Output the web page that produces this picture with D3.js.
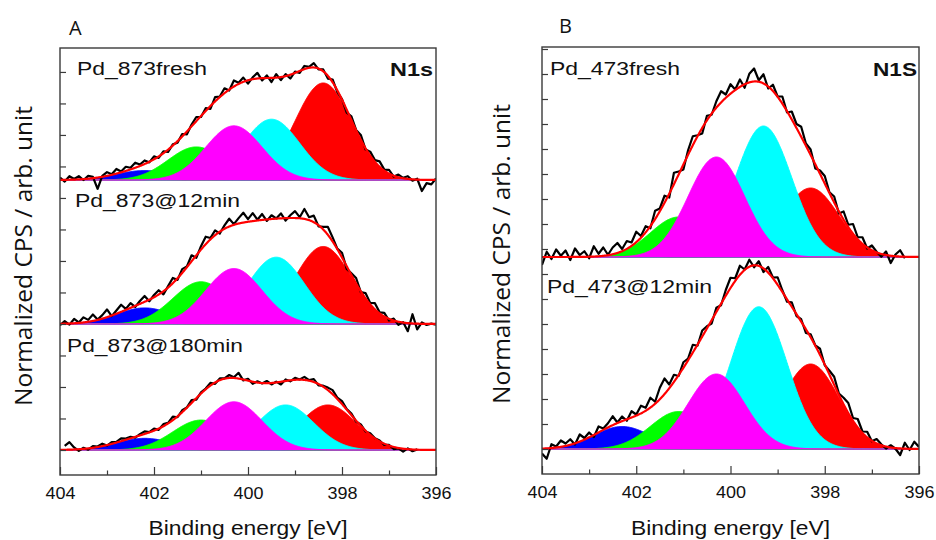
<!DOCTYPE html>
<html><head><meta charset="utf-8">
<script src="https://cdn.jsdelivr.net/npm/d3@7"></script>
<style>body{margin:0;background:#fff}</style>
</head><body>
<svg id="chart" width="936" height="540"></svg>
<script>
// ---------------- data ----------------
const energyStep = 0.1;
const peakColors = ["#0000ff", "#00ff00", "#ff00ff", "#00ffff", "#ff0000"]; // blue, green, magenta, cyan, red
const drawOrder = [4, 0, 3, 1, 2];
const peakSigma = 0.6;
const xMajorTicks = [404, 402, 400, 398, 396];
const xMinorTicks = [403, 401, 399, 397];

// Panel A
const labelsA = ["Pd_873fresh", "Pd_873@12min", "Pd_873@180min"];
const offsetsA = [85.7, 40, 0];
const startsA = [404.0, 404.0, 403.9];
const centersA_fresh = [402.2, 401.1, 400.3, 399.5, 398.4];
const heightsA_fresh = [3.0, 10.5, 17.2, 19.3, 30.8];
const centersA_12 = [402.2, 401.0, 400.3, 399.4, 398.4];
const heightsA_12 = [5.1, 13.4, 17.6, 21.2, 24.6];
const centersA_180 = [402.2, 401.0, 400.3, 399.2, 398.3];
const heightsA_180 = [3.7, 9.5, 15.3, 14.3, 14.3];
const dataA_fresh = [0.8,-0.5,1.2,0.3,1.2,0.0,1.3,1.0,-2.8,1.3,
 2.5,1.8,3.5,2.7,4.2,3.9,5.5,4.9,6.2,5.6,
 7.5,7.0,9.1,8.9,11.3,11.8,14.6,14.5,17.6,20.0,
 20.0,22.8,22.6,26.3,26.5,29.1,28.4,31.6,30.9,32.5,
 30.6,32.6,34.0,31.6,33.2,31.1,33.6,31.7,33.6,32.2,
 34.4,34.0,36.2,35.9,37.1,35.1,35.1,32.2,31.9,27.9,
 25.7,21.4,20.2,15.9,14.3,9.7,9.0,6.3,5.9,3.3,
 3.2,1.1,1.7,0.7,1.2,-0.2,0.4,-3.5,-1.0,-1.4,
 0.5];
const dataA_12 = [-0.4,0.9,-0.2,1.6,0.5,2.1,1.3,3.0,1.4,2.8,
 4.6,2.5,4.3,6.1,4.8,6.6,5.4,7.3,8.9,7.2,
 9.2,10.7,9.4,12.0,14.6,14.0,17.4,18.3,21.8,21.0,
 24.7,27.7,27.3,29.7,28.7,31.3,33.4,31.7,33.6,35.3,
 33.3,35.2,33.1,34.9,32.7,34.5,33.5,35.1,32.8,34.5,
 35.8,33.9,36.5,33.9,34.4,31.0,30.8,30.8,27.5,23.9,
 22.6,17.5,16.1,14.6,10.1,9.8,6.7,6.6,3.7,3.5,
 1.1,1.7,-0.3,0.6,-2.3,3.1,-1.7,0.5,-0.3,0.1,
 -0.2];
const dataA_180 = [1.3,2.5,0.8,-0.3,0.7,0.1,1.2,1.1,2.0,1.4,
 2.5,2.6,3.7,3.6,4.2,3.9,5.0,5.9,5.7,6.8,
 6.4,8.2,8.6,10.6,10.4,12.6,13.5,15.8,16.0,18.3,
 19.5,21.3,21.0,22.7,22.7,23.8,23.1,24.5,22.1,22.6,
 21.0,21.8,21.1,21.9,20.8,21.7,20.8,22.4,21.8,22.9,
 22.4,23.2,22.2,22.5,20.5,20.4,19.8,19.0,16.6,15.5,
 13.0,11.6,9.0,8.1,5.9,5.3,3.7,3.0,1.6,1.6,
 0.3,0.5,-0.5,0.5,-0.4,0.2];

// Panel B
const labelsB = ["Pd_473fresh", "Pd_473@12min"];
const offsetsB = [76.8, 0];
const startsB = [404.0, 404.0];
const centersB_fresh = [402.2, 401.1, 400.3, 399.3, 398.3];
const heightsB_fresh = [0, 16, 40, 52.4, 27.6];
const centersB_12 = [402.3, 401.1, 400.3, 399.4, 398.3];
const heightsB_12 = [9, 15, 30, 56.9, 34];
const dataB_fresh = [-3.2,2.1,-0.8,3.0,0.5,2.6,-1.2,3.4,0.8,2.3,
 -0.5,4.3,1.3,3.8,0.9,3.8,5.6,3.2,6.4,5.8,
 10.1,8.4,12.3,11.5,18.5,19.4,24.5,23.8,33.7,34.2,
 35.0,42.7,48.3,48.7,49.4,56.5,56.9,62.3,66.3,65.0,
 69.1,67.0,71.0,67.7,73.3,75.4,70.7,73.1,67.4,68.9,
 64.2,64.2,57.8,58.2,53.2,52.1,45.4,43.0,35.4,34.6,
 32.4,25.9,24.2,17.4,18.2,12.9,13.2,7.9,7.9,3.4,
 4.6,2.1,0.1,2.2,-2.4,1.0,2.7,-0.5];
const dataB_12 = [-1.8,-3.9,1.9,1.0,3.4,2.2,3.9,1.8,5.8,4.4,
 6.6,4.8,9.0,8.2,10.3,13.1,10.6,13.0,11.3,15.1,
 13.8,17.3,16.5,20.5,18.9,24.5,28.2,25.8,29.7,29.2,
 34.7,36.2,41.7,41.3,47.4,49.1,50.2,56.5,57.5,63.6,
 68.5,68.3,73.3,71.8,75.7,72.7,75.1,70.8,72.8,68.6,
 68.7,63.5,58.9,58.7,53.2,51.9,46.4,45.9,41.4,40.1,
 33.5,31.3,28.9,22.2,20.5,18.4,12.4,12.0,7.0,6.9,
 3.1,4.0,1.9,0.2,1.5,0.1,-2.4,2.5,-0.4,2.9,
 0.8];

// ---------------- layout ----------------
const panels = [
  { left: 60, right: 436, top: 48, bottom: 475, yDomain: [-7.94, 127.6], yTicks: d3.range(0, 121, 10),
    tag: "A", tagX: 69, tagY: 35, element: "N1s", elX: 390, elLen: 43, yTitleX: 31.5, yTitleY: 256,
    spectra: [
      { label: labelsA[0], offset: offsetsA[0], start: startsA[0], data: dataA_fresh, centers: centersA_fresh, heights: heightsA_fresh, lx: 77, ly: 74.5, ll: 130 },
      { label: labelsA[1], offset: offsetsA[1], start: startsA[1], data: dataA_12, centers: centersA_12, heights: heightsA_12, lx: 75, ly: 207, ll: 165 },
      { label: labelsA[2], offset: offsetsA[2], start: startsA[2], data: dataA_180, centers: centersA_180, heights: heightsA_180, lx: 67, ly: 352, ll: 176 }
    ] },
  { left: 542, right: 919, top: 47, bottom: 474, yDomain: [-10, 160.8], yTicks: d3.range(0, 161, 10),
    tag: "B", tagX: 559, tagY: 33, element: "N1S", elX: 873, elLen: 44, yTitleX: 510, yTitleY: 254,
    spectra: [
      { label: labelsB[0], offset: offsetsB[0], start: startsB[0], data: dataB_fresh, centers: centersB_fresh, heights: heightsB_fresh, lx: 550, ly: 75, ll: 130 },
      { label: labelsB[1], offset: offsetsB[1], start: startsB[1], data: dataB_12, centers: centersB_12, heights: heightsB_12, lx: 547, ly: 293, ll: 165 }
    ] }
];

const svg = d3.select("#chart");
svg.append("rect").attr("width", 936).attr("height", 540).attr("fill", "#fff");
const fineE = d3.range(0, 801).map(i => 404 - i * 0.01);
const gauss = (e, c, h) => h * Math.exp(-((e - c) ** 2) / (2 * peakSigma * peakSigma));
const axisColor = "#3a3a3a";

panels.forEach((p, pi) => {
  const x = d3.scaleLinear().domain([404, 396]).range([p.left, p.right]);
  const y = d3.scaleLinear().domain(p.yDomain).range([p.bottom, p.top]);
  const clipId = "clip" + pi;
  svg.append("clipPath").attr("id", clipId).append("rect")
    .attr("x", p.left).attr("y", p.top).attr("width", p.right - p.left).attr("height", p.bottom - p.top);
  const g = svg.append("g").attr("clip-path", `url(#${clipId})`);

  p.spectra.forEach(s => {
    const comps = fineE.map(e => ({ e, v: s.centers.map((c, k) => gauss(e, c, s.heights[k])) }));
    drawOrder.forEach(k => {
      const area = d3.area().x(d => x(d.e)).y0(y(s.offset)).y1(d => y(s.offset + d.v[k]));
      g.append("path").datum(comps).attr("d", area)
        .attr("fill", peakColors[k]).attr("stroke", peakColors[k]).attr("stroke-width", 1);
    });
    const pts = s.data.map((v, i) => ({ e: s.start - i * energyStep, v }));
    g.append("path").datum(pts)
      .attr("d", d3.line().x(d => x(d.e)).y(d => y(s.offset + d.v)))
      .attr("fill", "none").attr("stroke", "#000").attr("stroke-width", 2.2).attr("stroke-linejoin", "round");
    g.append("path").datum(comps)
      .attr("d", d3.line().x(d => x(d.e)).y(d => y(s.offset + d3.sum(d.v))))
      .attr("fill", "none").attr("stroke", "#ff0000").attr("stroke-width", 2.2);
  });

  // frame
  svg.append("rect").attr("x", p.left).attr("y", p.top).attr("width", p.right - p.left).attr("height", p.bottom - p.top)
    .attr("fill", "none").attr("stroke", axisColor).attr("stroke-width", 1.4);

  // left ticks (inward)
  const ly = svg.append("g").attr("transform", `translate(${p.left},0)`)
    .call(d3.axisLeft(y).tickValues(p.yTicks).tickSize(-6).tickFormat(""));
  ly.select(".domain").remove();
  ly.selectAll("line").attr("stroke", axisColor).attr("stroke-width", 1.2);

  // bottom ticks
  const bx = svg.append("g").attr("transform", `translate(0,${p.bottom})`)
    .call(d3.axisBottom(x).tickValues(xMajorTicks).tickSize(-8).tickPadding(12).tickFormat(d3.format("d")));
  bx.select(".domain").remove();
  bx.selectAll("line").attr("stroke", axisColor).attr("stroke-width", 1.2);
  bx.selectAll("text").attr("font-family", "Liberation Sans, Arial, sans-serif").attr("font-size", 17)
    .attr("fill", "#111").attr("textLength", 30).attr("lengthAdjust", "spacingAndGlyphs");
  const mx = svg.append("g").attr("transform", `translate(0,${p.bottom})`)
    .call(d3.axisBottom(x).tickValues(xMinorTicks).tickSize(-4.5).tickFormat(""));
  mx.select(".domain").remove();
  mx.selectAll("line").attr("stroke", axisColor).attr("stroke-width", 1.2);

  // sample labels
  p.spectra.forEach(s => {
    svg.append("text").attr("x", s.lx).attr("y", s.ly).text(s.label)
      .attr("font-family", "Liberation Sans, Arial, sans-serif").attr("font-size", 18).attr("fill", "#111")
      .attr("textLength", s.ll).attr("lengthAdjust", "spacingAndGlyphs");
  });
  svg.append("text").attr("x", p.elX).attr("y", 76).text(p.element)
    .attr("font-family", "Liberation Sans, Arial, sans-serif").attr("font-size", 18).attr("font-weight", "bold")
    .attr("fill", "#111").attr("textLength", p.elLen).attr("lengthAdjust", "spacingAndGlyphs");

  // x title
  svg.append("text").attr("x", (p.left + p.right) / 2).attr("y", 535).attr("text-anchor", "middle")
    .text("Binding energy [eV]")
    .attr("font-family", "Liberation Sans, Arial, sans-serif").attr("font-size", 21).attr("fill", "#111")
    .attr("textLength", 199).attr("lengthAdjust", "spacingAndGlyphs");

  // y title
  svg.append("text").attr("transform", `translate(${p.yTitleX},${p.yTitleY}) rotate(-90)`)
    .attr("text-anchor", "middle").text("Normalized CPS / arb. unit")
    .attr("font-family", "Open Sans, Noto Sans, sans-serif").attr("font-size", 24).attr("fill", "#111")
    .attr("textLength", 300).attr("lengthAdjust", "spacingAndGlyphs");

  // panel tag
  svg.append("text").attr("x", p.tagX).attr("y", p.tagY).text(p.tag)
    .attr("font-family", "Open Sans, Noto Sans, sans-serif").attr("font-size", 20).attr("fill", "#111");
});
</script>
</body></html>
